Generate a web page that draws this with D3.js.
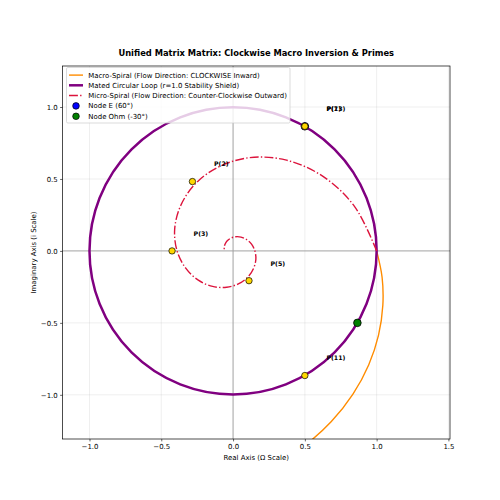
<!DOCTYPE html>
<html>
<head>
<meta charset="utf-8">
<script src="https://cdn.jsdelivr.net/npm/d3@7"></script>
<style>
  body { margin: 0; background: #fff; }
  svg { font-family: "DejaVu Sans", sans-serif; }
</style>
</head>
<body>
<div id="chart"></div>
<script>
// values
var xTicks = [-1.0, -0.5, 0.0, 0.5, 1.0, 1.5];
var yTicks = [-1.0, -0.5, 0.0, 0.5, 1.0];

// macro spiral (clockwise, going outward from (1,0)), polar: angle in degrees, radius
var macroAngles = [0, -10, -20, -30, -40, -50, -60, -70, -80, -90];
var macroRadii  = [1.000, 1.054, 1.110, 1.170, 1.233, 1.299, 1.369, 1.443, 1.520, 1.602];

// micro spiral, polar
var microAngles = [0, 20, 40, 60, 80, 100, 120, 140, 160, 180, 200, 220, 240, 260,
                   280, 300, 320, 340, 360, 380, 400, 420, 440, 460, 480, 500, 520, 540];
var microRadii  = [1.000, 0.901, 0.811, 0.730, 0.658, 0.592, 0.534, 0.480, 0.433, 0.390,
                   0.351, 0.316, 0.285, 0.256, 0.231, 0.208, 0.187, 0.169, 0.152, 0.137,
                   0.123, 0.111, 0.100, 0.090, 0.081, 0.073, 0.066, 0.059];

var loopRadius = 1.0;

var nodeNames  = ["Node E (60°)", "Node Ohm (-30°)"];
var nodeX      = [0.500, 0.866];
var nodeY      = [0.866, -0.500];
var nodeColors = ["blue", "green"];

var primes = [2, 3, 5, 7, 11, 13];
var primeX = [-0.283, -0.425, 0.111, 0.500, 0.500, 0.500];
var primeY = [0.482, 0.000, -0.207, 0.866, -0.866, 0.866];

var seriesNames = ["Macro-Spiral (Flow Direction: CLOCKWISE Inward)",
                   "Mated Circular Loop (r=1.0 Stability Shield)",
                   "Micro-Spiral (Flow Direction: Counter-Clockwise Outward)"];

var W = 500, H = 500;
var plot = {left: 62.5, right: 450, top: 66, bottom: 439};

var x = d3.scaleLinear().domain([-1.188, 1.511]).range([plot.left, plot.right]);
var y = d3.scaleLinear().domain([-1.307, 1.285]).range([plot.bottom, plot.top]);

var svg = d3.select("#chart").append("svg")
    .attr("width", W).attr("height", H);

svg.append("defs").append("clipPath").attr("id", "clip")
  .append("rect")
    .attr("x", plot.left).attr("y", plot.top)
    .attr("width", plot.right - plot.left).attr("height", plot.bottom - plot.top);

// grid
var grid = svg.append("g").attr("clip-path", "url(#clip)");
grid.selectAll(".gx").data(xTicks).enter().append("line")
    .attr("x1", d => x(d)).attr("x2", d => x(d))
    .attr("y1", plot.top).attr("y2", plot.bottom)
    .attr("stroke", "#b0b0b0").attr("stroke-opacity", 0.3).attr("stroke-width", 0.7);
grid.selectAll(".gy").data(yTicks).enter().append("line")
    .attr("y1", d => y(d)).attr("y2", d => y(d))
    .attr("x1", plot.left).attr("x2", plot.right)
    .attr("stroke", "#b0b0b0").attr("stroke-opacity", 0.3).attr("stroke-width", 0.7);

var g = svg.append("g").attr("clip-path", "url(#clip)");

// zero lines
g.append("line")
    .attr("x1", plot.left).attr("x2", plot.right)
    .attr("y1", y(0)).attr("y2", y(0))
    .attr("stroke", "#a0a0a0").attr("stroke-width", 0.9);
g.append("line")
    .attr("x1", x(0)).attr("x2", x(0))
    .attr("y1", plot.top).attr("y2", plot.bottom)
    .attr("stroke", "#a0a0a0").attr("stroke-width", 0.9);

function polarPoints(angles, radii) {
    return angles.map(function(a, i) {
        var t = a * Math.PI / 180;
        return [radii[i] * Math.cos(t), radii[i] * Math.sin(t)];
    });
}

var line = d3.line()
    .x(d => x(d[0]))
    .y(d => y(d[1]))
    .curve(d3.curveCatmullRom);

// macro spiral
g.append("path")
    .datum(polarPoints(macroAngles, macroRadii))
    .attr("d", line)
    .attr("fill", "none")
    .attr("stroke", "darkorange")
    .attr("stroke-width", 1.4);

// mated circular loop
g.append("circle")
    .attr("cx", x(0)).attr("cy", y(0))
    .attr("r", x(loopRadius) - x(0))
    .attr("fill", "none")
    .attr("stroke", "purple")
    .attr("stroke-width", 2.5);

// micro spiral
g.append("path")
    .datum(polarPoints(microAngles, microRadii))
    .attr("d", line)
    .attr("fill", "none")
    .attr("stroke", "crimson")
    .attr("stroke-width", 1.4)
    .attr("stroke-dasharray", "8.9,2.2,1.4,2.2");

// nodes
g.selectAll(".node").data(nodeNames).enter().append("circle")
    .attr("cx", (d, i) => x(nodeX[i]))
    .attr("cy", (d, i) => y(nodeY[i]))
    .attr("r", 3.8)
    .attr("fill", (d, i) => nodeColors[i])
    .attr("stroke", "black").attr("stroke-width", 0.8);

// primes
g.selectAll(".prime").data(primes).enter().append("circle")
    .attr("cx", (d, i) => x(primeX[i]))
    .attr("cy", (d, i) => y(primeY[i]))
    .attr("r", 3.2)
    .attr("fill", "gold")
    .attr("stroke", "black").attr("stroke-width", 0.7);

g.selectAll(".plabel").data(primes).enter().append("text")
    .attr("x", (d, i) => x(primeX[i] + 0.15))
    .attr("y", (d, i) => y(primeY[i] + 0.12))
    .attr("dy", "0.35em")
    .attr("font-size", "6.25px")
    .attr("font-weight", "bold")
    .text(d => "P(" + d + ")");

// frame
svg.append("rect")
    .attr("x", plot.left).attr("y", plot.top)
    .attr("width", plot.right - plot.left).attr("height", plot.bottom - plot.top)
    .attr("fill", "none").attr("stroke", "#000").attr("stroke-width", 0.7);

// axes
var fmt = d3.format(".1f");
var xAxis = d3.axisBottom(x).tickValues(xTicks).tickSize(2.4).tickPadding(2.4)
    .tickFormat(d => fmt(d).replace("-", "\u2212"));
var yAxis = d3.axisLeft(y).tickValues(yTicks).tickSize(2.4).tickPadding(2.4)
    .tickFormat(d => fmt(d).replace("-", "\u2212"));

var gx = svg.append("g").attr("transform", "translate(0," + plot.bottom + ")").call(xAxis);
var gy = svg.append("g").attr("transform", "translate(" + plot.left + ",0)").call(yAxis);
[gx, gy].forEach(function(a) {
    a.select(".domain").remove();
    a.selectAll("line").attr("stroke", "#000").attr("stroke-width", 0.6);
    a.selectAll("text").attr("font-size", "6.94px").attr("fill", "#000")
        .attr("font-family", "DejaVu Sans");
});

// title and axis labels
svg.append("text")
    .attr("x", (plot.left + plot.right) / 2).attr("y", 55.8)
    .attr("text-anchor", "middle")
    .attr("font-size", "8.33px").attr("font-weight", "bold")
    .text("Unified Matrix Matrix: Clockwise Macro Inversion & Primes");

svg.append("text")
    .attr("x", (plot.left + plot.right) / 2).attr("y", 459.5)
    .attr("text-anchor", "middle")
    .attr("font-size", "6.94px")
    .text("Real Axis (Ω Scale)");

svg.append("text")
    .attr("transform", "translate(35.5," + ((plot.top + plot.bottom) / 2) + ") rotate(-90)")
    .attr("text-anchor", "middle")
    .attr("font-size", "6.94px")
    .text("Imaginary Axis (i Scale)");

// legend
var leg = svg.append("g").attr("transform", "translate(66.5,67.5)");
leg.append("rect")
    .attr("width", 223.5).attr("height", 55.5)
    .attr("rx", 1.4)
    .attr("fill", "white").attr("fill-opacity", 0.8)
    .attr("stroke", "#cccccc").attr("stroke-width", 0.7);

var rowY = [7.6, 17.8, 28.0, 38.4, 48.8];
var lineStyles = [
    {color: "darkorange", width: 1.4, dash: null},
    {color: "purple", width: 2.5, dash: null},
    {color: "crimson", width: 1.4, dash: "8.9,2.2,1.4,2.2"}
];
seriesNames.forEach(function(name, i) {
    leg.append("line")
        .attr("x1", 2.5).attr("x2", 16.5)
        .attr("y1", rowY[i]).attr("y2", rowY[i])
        .attr("stroke", lineStyles[i].color)
        .attr("stroke-width", lineStyles[i].width)
        .attr("stroke-dasharray", lineStyles[i].dash);
    leg.append("text")
        .attr("x", 21.8).attr("y", rowY[i]).attr("dy", "0.35em")
        .attr("font-size", "6.94px")
        .text(name);
});
nodeNames.forEach(function(name, i) {
    leg.append("circle")
        .attr("cx", 9.5).attr("cy", rowY[3 + i]).attr("r", 3.3)
        .attr("fill", nodeColors[i])
        .attr("stroke", "black").attr("stroke-width", 0.7);
    leg.append("text")
        .attr("x", 21.8).attr("y", rowY[3 + i]).attr("dy", "0.35em")
        .attr("font-size", "6.94px")
        .text(name);
});
</script>
</body>
</html>
